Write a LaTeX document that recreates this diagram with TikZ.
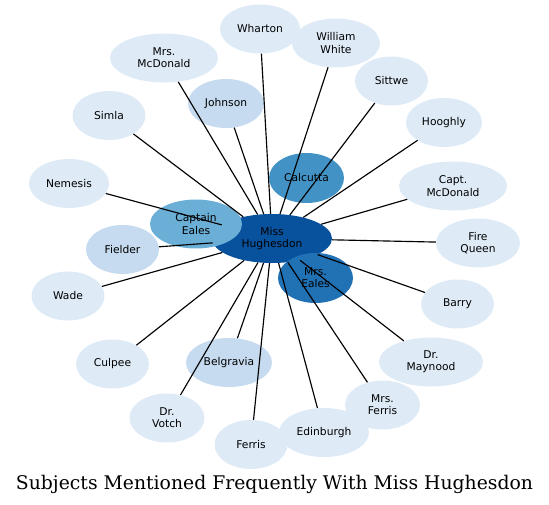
\documentclass[tikz,border=0pt]{standalone}
\usepackage{fontspec}
\usetikzlibrary{shapes.geometric}
\newfontfamily\nodefont{DejaVu Sans}
\newfontfamily\titlefont{DejaVu Serif}
\definecolor{cA}{HTML}{DEEBF7}
\definecolor{cB}{HTML}{C6DBEF}
\definecolor{cC}{HTML}{6BAED6}
\definecolor{cD}{HTML}{4292C6}
\definecolor{cE}{HTML}{2171B5}
\definecolor{cF}{HTML}{08519C}
\tikzset{
  ent/.style={ellipse, inner sep=0pt, align=center, draw=none,
    font=\nodefont\fontsize{10.7}{12.3}\selectfont},
  conn/.style={draw=black, line width=1.15pt},
}
\newcommand{\ent}[6]{\node[ent, fill=#1, minimum width=#4pt, minimum height=#5pt] (#2) at (#3) {#6};}
\begin{document}
\begin{tikzpicture}[x=1pt,y=-1pt]
\useasboundingbox (0,0) rectangle (549,505);
\ent{cA}{wharton}{260,29}{80}{49}{Wharton}
\ent{cA}{ww}{336,43}{88}{49}{William\\White}
\ent{cA}{mrsmcd}{164,58}{108}{49}{Mrs.\\McDonald}
\ent{cA}{sittwe}{391.5,81}{73}{49}{Sittwe}
\ent{cB}{johnson}{226,103.5}{76}{49}{Johnson}
\ent{cA}{simla}{109,115.5}{73}{49}{Simla}
\ent{cA}{hooghly}{444,122.5}{76}{49}{Hooghly}
\ent{cA}{nemesis}{69,183.5}{80}{49}{Nemesis}
\ent{cA}{captmcd}{453,186}{108}{49}{Capt.\\McDonald}
\ent{cA}{fire}{478,243}{84}{49}{Fire\\Queen}
\ent{cB}{fielder}{122.5,249.5}{73}{49}{Fielder}
\ent{cA}{wade}{68,296}{73}{49}{Wade}
\ent{cA}{barry}{457.5,304}{73}{49}{Barry}
\ent{cA}{culpee}{112.5,364}{73}{49}{Culpee}
\ent{cB}{belgravia}{229,362.5}{86}{49}{Belgravia}
\ent{cA}{maynood}{431,362}{104}{49}{Dr.\\Maynood}
\ent{cA}{votch}{167,418}{75}{49}{Dr.\\Votch}
\ent{cA}{mrsferris}{382.5,405}{75}{49}{Mrs.\\Ferris}
\ent{cA}{edinburgh}{324,432.5}{90}{49}{Edinburgh}
\ent{cA}{ferris}{251,444.5}{73}{49}{Ferris}
\ent{cD}{calcutta}{306.5,178}{75}{50}{Calcutta}
\ent{cF}{mh}{272,238.5}{120}{49}{Miss\\Hughesdon}
\ent{cC}{ceales}{196,224}{92}{49}{Captain\\Eales}
\ent{cE}{meales}{315.5,278}{75}{50}{Mrs.\\Eales}
\foreach \t in {wharton,ww,mrsmcd,sittwe,johnson,simla,hooghly,nemesis,captmcd,fire,fielder,wade,barry,culpee,belgravia,maynood,votch,mrsferris,edinburgh,ferris}
  \draw[conn] (mh) -- (\t);
\node[font=\titlefont\fontsize{18.8}{21}\selectfont, inner sep=0pt, anchor=base] (title) at (274.5,489) {Subjects Mentioned Frequently With Miss Hughesdon};
\end{tikzpicture}
\end{document}
